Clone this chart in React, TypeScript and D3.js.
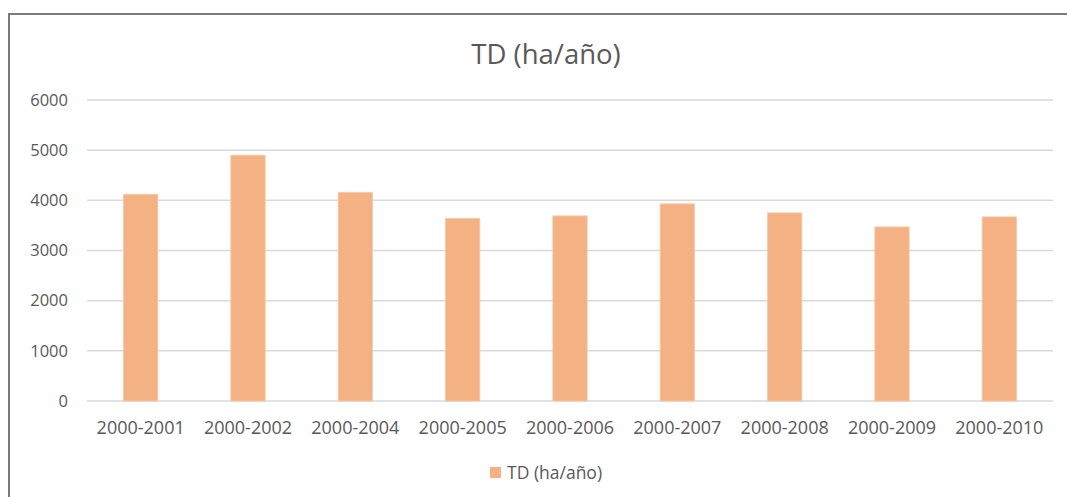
import React from "react";
import * as d3 from "d3";

const categories = ["2000-2001", "2000-2002", "2000-2004", "2000-2005", "2000-2006", "2000-2007", "2000-2008", "2000-2009", "2000-2010"];
const values = [4120, 4900, 4160, 3640, 3690, 3930, 3750, 3470, 3670];
const yTicks = [0, 1000, 2000, 3000, 4000, 5000, 6000];
const seriesName = "TD (ha/año)";
const title = "TD (ha/año)";

const W = 1067;
const H = 497;
const FONT = "'Open Sans', 'DejaVu Sans', sans-serif";

export default function App() {
  const x = d3.scaleBand<string>().domain(categories).range([87, 1053]).paddingInner(0.68).paddingOuter(0.34);
  const y = d3.scaleLinear().domain([0, 6000]).range([401, 100]);
  const textColor = "#595959";
  return (
    <svg width={W} height={H} style={{ position: "absolute", left: 0, top: 0, background: "#fff" }} fontFamily={FONT}>
      <rect x={0} y={0} width={W} height={H} fill="#fff" />
      <line x1={9} y1={14} x2={W} y2={14} stroke="#7a7a7a" strokeWidth={2} />
      <line x1={9} y1={13} x2={9} y2={H} stroke="#7a7a7a" strokeWidth={2} />
      <text x={546} y={64} textAnchor="middle" fontSize={27.5} fill={textColor}>{title}</text>
      {yTicks.map((t) => (
        <g key={t}>
          <line x1={87} x2={1053} y1={y(t)} y2={y(t)} stroke="#d9d9d9" strokeWidth={1.5} />
          <text x={68} y={y(t)} dy="0.35em" textAnchor="end" fontSize={16.5} fill={textColor}>{t}</text>
        </g>
      ))}
      {categories.map((c, i) => (
        <rect key={c} x={x(c)} y={y(values[i])} width={x.bandwidth()} height={y(0) - y(values[i])} fill="#F4B183" stroke="#F8C9A6" strokeWidth={0.8} />
      ))}
      {categories.map((c) => (
        <text key={c} x={(x(c) as number) + x.bandwidth() / 2} y={428} dy="0.35em" textAnchor="middle" fontSize={18} fill={textColor}>{c}</text>
      ))}
      <rect x={490} y={467} width={11} height={11} fill="#F4B183" />
      <text x={507} y={472.5} dy="0.35em" fontSize={17.5} fill={textColor}>{seriesName}</text>
    </svg>
  );
}
